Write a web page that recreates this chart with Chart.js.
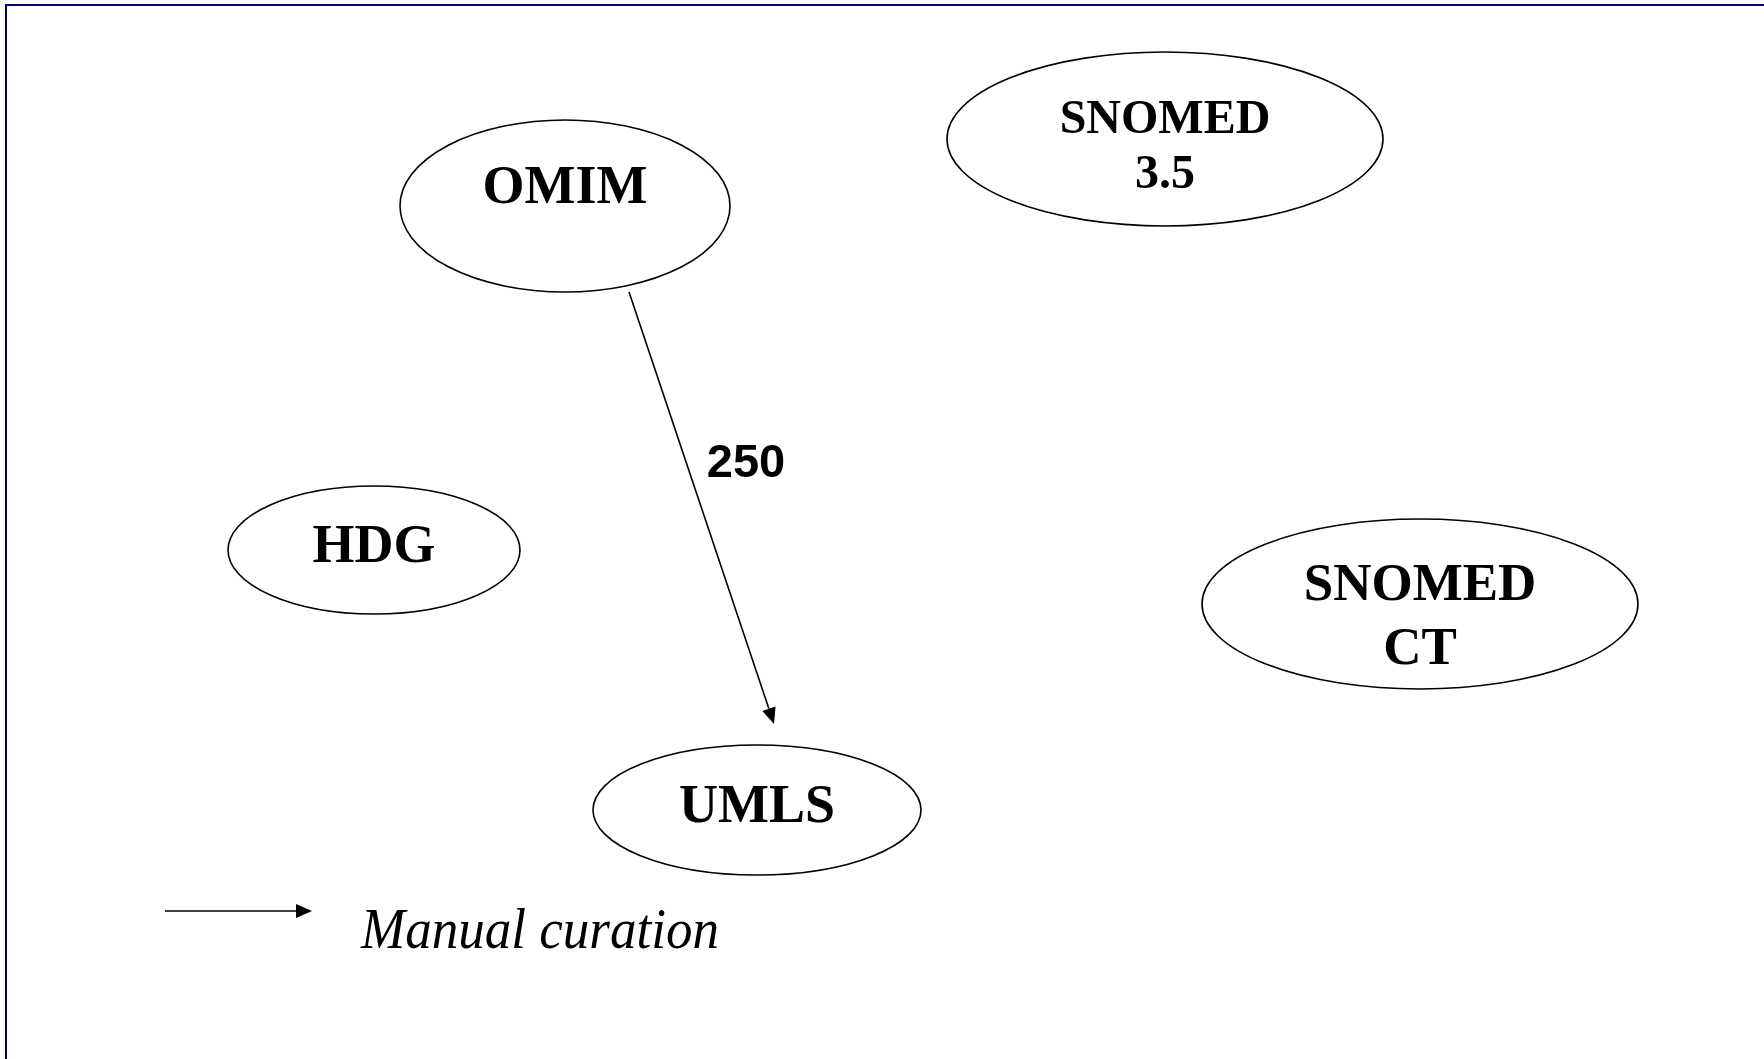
<!DOCTYPE html>
<html lang="en">
<head>
  <meta charset="UTF-8">
  <title>Mapping diagram</title>
  <script src="https://cdn.jsdelivr.net/npm/chart.js"></script>
  <style>
    html, body { margin: 0; padding: 0; background: #fff; }
    .frame {
      position: relative;
      width: 1764px;
      height: 1059px;
      overflow: hidden;
    }
    .frame::before {
      content: '';
      position: absolute;
      left: 5px; top: 4px; right: -10px; bottom: -10px;
      border-left: 2px solid #000070;
      border-top: 2px solid #000070;
      pointer-events: none;
    }
  </style>
</head>
<body>
  <div class="frame">
    <canvas id="diagram"></canvas>
  </div>

  <script>
    // nodes of the diagram (centres in picture units)
    const nodeNames = ['OMIM', 'SNOMED 3.5', 'HDG', 'SNOMED CT', 'UMLS'];
    const nodeX = [565, 1165, 374, 1420, 757];
    const nodeY = [206, 139, 550, 604, 810];
    const nodeLabels = [['OMIM'], ['SNOMED', '3.5'], ['HDG'], ['SNOMED', 'CT'], ['UMLS']];

    // mapping edges: from node, to node, count
    const edgeFrom = ['OMIM'];
    const edgeTo = ['UMLS'];
    const edgeCount = [250];

    const legendLabel = 'Manual curation';

    // sizes / styling (kept apart from the data)
    const nodeRx = [165, 218, 146, 218, 164];
    const nodeRy = [86, 87, 64, 85, 65];
    const nodeFont = [54, 48, 54, 53, 54];
    const lineGap = [0, 55, 0, 64, 0];
    const firstBaseline = [-3, -6, 12, -4, 12];
    const edgeStart = [[629, 292]];
    const edgeEnd = [[774, 724]];

    function arrow(ctx, x1, y1, x2, y2) {
      const a = Math.atan2(y2 - y1, x2 - x1);
      const len = 16, half = 7;
      ctx.beginPath();
      ctx.moveTo(x1, y1);
      ctx.lineTo(x2 - Math.cos(a) * len, y2 - Math.sin(a) * len);
      ctx.stroke();
      ctx.beginPath();
      ctx.moveTo(x2, y2);
      ctx.lineTo(x2 - Math.cos(a) * len - Math.sin(a) * half, y2 - Math.sin(a) * len + Math.cos(a) * half);
      ctx.lineTo(x2 - Math.cos(a) * len + Math.sin(a) * half, y2 - Math.sin(a) * len - Math.cos(a) * half);
      ctx.closePath();
      ctx.fill();
    }

    // draws ellipses, labels, edges and legend through the chart scales
    const diagramPlugin = {
      id: 'diagram',
      afterDatasetsDraw(chart) {
        const ctx = chart.ctx;
        const sx = chart.scales.x, sy = chart.scales.y;
        const px = v => sx.getPixelForValue(v);
        const py = v => sy.getPixelForValue(v);
        ctx.save();
        ctx.strokeStyle = '#000';
        ctx.fillStyle = '#000';
        ctx.lineWidth = 1.6;

        nodeNames.forEach((name, i) => {
          const cx = px(nodeX[i]), cy = py(nodeY[i]);
          const rx = px(nodeX[i] + nodeRx[i]) - cx;
          const ry = py(nodeY[i] + nodeRy[i]) - cy;
          ctx.beginPath();
          ctx.ellipse(cx, cy, rx, ry, 0, 0, Math.PI * 2);
          ctx.stroke();
          ctx.font = 'bold ' + nodeFont[i] + 'px "Liberation Serif", "Times New Roman", serif';
          ctx.textAlign = 'center';
          ctx.textBaseline = 'alphabetic';
          nodeLabels[i].forEach((line, j) => {
            ctx.fillText(line, cx, cy + firstBaseline[i] + j * lineGap[i]);
          });
        });

        edgeFrom.forEach((from, i) => {
          const x1 = px(edgeStart[i][0]), y1 = py(edgeStart[i][1]);
          const x2 = px(edgeEnd[i][0]), y2 = py(edgeEnd[i][1]);
          arrow(ctx, x1, y1, x2, y2);
          ctx.font = 'bold 47px "Liberation Sans", Arial, sans-serif';
          ctx.textAlign = 'center';
          ctx.fillText(String(edgeCount[i]), px(746), py(477));
        });

        // legend
        arrow(ctx, px(165), py(911), px(312), py(911));
        ctx.font = 'italic 57px "Liberation Serif", "Times New Roman", serif';
        ctx.textAlign = 'left';
        ctx.fillText(legendLabel, px(361), py(948), 358);
        ctx.restore();
      }
    };

    new Chart(document.getElementById('diagram').getContext('2d'), {
      type: 'scatter',
      data: {
        datasets: [{
          label: 'nodes',
          data: nodeNames.map((n, i) => ({ x: nodeX[i], y: nodeY[i] })),
          pointRadius: 0,
          pointHoverRadius: 0
        }]
      },
      options: {
        responsive: true,
        maintainAspectRatio: false,
        animation: false,
        events: [],
        layout: { padding: 0 },
        plugins: {
          legend: { display: false },
          tooltip: { enabled: false }
        },
        scales: {
          x: { type: 'linear', min: 0, max: 1764, display: false },
          y: { type: 'linear', min: 0, max: 1059, reverse: true, display: false }
        }
      },
      plugins: [diagramPlugin]
    });
  </script>
</body>
</html>
